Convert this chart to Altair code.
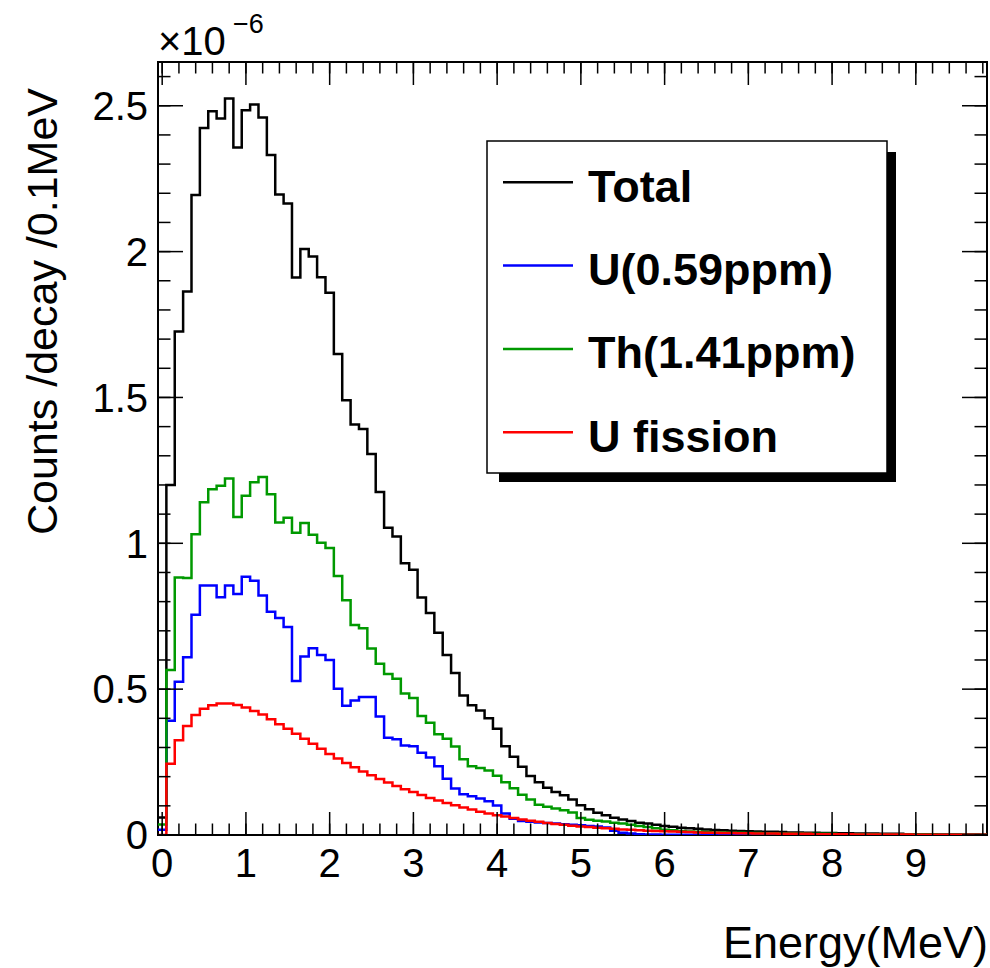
import altair as alt
import pandas as pd

# ---------------- data ----------------
energy = [round(0.1 * i, 1) for i in range(99)]  # bin centres (MeV), bin width 0.1

total = [0.060, 1.200, 1.726, 1.863, 2.194, 2.424, 2.481, 2.456, 2.525, 2.357,
         2.485, 2.504, 2.460, 2.331, 2.196, 2.165, 1.911, 2.009, 1.983, 1.912,
         1.859, 1.649, 1.490, 1.407, 1.392, 1.306, 1.176, 1.053, 1.023, 0.932,
         0.909, 0.814, 0.761, 0.693, 0.617, 0.555, 0.478, 0.445, 0.427, 0.400,
         0.364, 0.304, 0.268, 0.234, 0.202, 0.181, 0.162, 0.147, 0.136, 0.122,
         0.102, 0.088, 0.076, 0.068, 0.059, 0.053, 0.048, 0.042, 0.039, 0.035,
         0.031, 0.028, 0.025, 0.023, 0.021, 0.019, 0.017, 0.016, 0.015, 0.014,
         0.013, 0.012, 0.011, 0.011, 0.010, 0.009, 0.009, 0.008, 0.008, 0.007,
         0.007, 0.006, 0.006, 0.005, 0.005, 0.005, 0.004, 0.004, 0.004, 0.003,
         0.003, 0.003, 0.003, 0.002, 0.002, 0.002, 0.002, 0.002, 0.001]

uranium = [0.018, 0.392, 0.525, 0.609, 0.755, 0.855, 0.855, 0.815, 0.855, 0.826,
           0.885, 0.872, 0.821, 0.765, 0.744, 0.713, 0.528, 0.612, 0.640, 0.617,
           0.600, 0.501, 0.443, 0.461, 0.473, 0.473, 0.406, 0.333, 0.328, 0.307,
           0.304, 0.282, 0.266, 0.236, 0.193, 0.159, 0.140, 0.133, 0.125, 0.116,
           0.101, 0.074, 0.056, 0.048, 0.045, 0.043, 0.041, 0.039, 0.037, 0.035,
           0.033, 0.031, 0.029, 0.026, 0.015, 0.008, 0.005, 0.003, 0.002, 0.002,
           0.001, 0.001, 0.001, 0.001, 0.001, 0.001, 0.000, 0.000, 0.000, 0.000,
           0.000, 0.000, 0.000, 0.000, 0.000, 0.000, 0.000, 0.000, 0.000, 0.000,
           0.000, 0.000, 0.000, 0.000, 0.000, 0.000, 0.000, 0.000, 0.000, 0.000,
           0.000, 0.000, 0.000, 0.000, 0.000, 0.000, 0.000, 0.000, 0.000]

thorium = [0.036, 0.566, 0.883, 0.881, 1.031, 1.141, 1.185, 1.197, 1.222, 1.090,
           1.163, 1.209, 1.227, 1.168, 1.071, 1.088, 1.036, 1.070, 1.029, 1.002,
           0.984, 0.888, 0.805, 0.720, 0.709, 0.639, 0.587, 0.552, 0.536, 0.485,
           0.470, 0.408, 0.385, 0.345, 0.330, 0.303, 0.260, 0.236, 0.230, 0.221,
           0.203, 0.181, 0.160, 0.138, 0.122, 0.104, 0.097, 0.091, 0.085, 0.077,
           0.058, 0.052, 0.049, 0.046, 0.042, 0.039, 0.035, 0.031, 0.027, 0.023,
           0.018, 0.016, 0.014, 0.012, 0.011, 0.010, 0.009, 0.009, 0.008, 0.008,
           0.007, 0.007, 0.006, 0.006, 0.005, 0.005, 0.005, 0.004, 0.004, 0.004,
           0.004, 0.003, 0.003, 0.003, 0.003, 0.003, 0.002, 0.002, 0.002, 0.002,
           0.002, 0.002, 0.002, 0.001, 0.001, 0.001, 0.001, 0.001, 0.001]

fission = [0.000, 0.244, 0.325, 0.374, 0.411, 0.433, 0.445, 0.451, 0.451, 0.446,
           0.437, 0.425, 0.413, 0.397, 0.380, 0.364, 0.347, 0.330, 0.313, 0.296,
           0.278, 0.262, 0.247, 0.232, 0.218, 0.205, 0.192, 0.180, 0.168, 0.157,
           0.147, 0.137, 0.127, 0.118, 0.110, 0.102, 0.094, 0.087, 0.080, 0.074,
           0.068, 0.063, 0.058, 0.053, 0.049, 0.045, 0.041, 0.038, 0.035, 0.032,
           0.029, 0.027, 0.025, 0.023, 0.021, 0.019, 0.018, 0.016, 0.015, 0.014,
           0.013, 0.012, 0.011, 0.010, 0.009, 0.008, 0.008, 0.007, 0.007, 0.006,
           0.006, 0.005, 0.005, 0.005, 0.004, 0.004, 0.004, 0.004, 0.003, 0.003,
           0.003, 0.003, 0.003, 0.002, 0.002, 0.002, 0.002, 0.002, 0.002, 0.002,
           0.001, 0.001, 0.001, 0.001, 0.001, 0.001, 0.001, 0.001, 0.001]

series_names = ["Total", "U(0.59ppm)", "Th(1.41ppm)", "U fission"]
series_colors = ["#000000", "#0000ff", "#009900", "#ff0000"]
series_values = [total, uranium, thorium, fission]

x_major = [0, 1, 2, 3, 4, 5, 6, 7, 8, 9]
x_tick_labels = ["0", "1", "2", "3", "4", "5", "6", "7", "8", "9"]
x_minor = [round(0.2 * i, 1) for i in range(50)]
y_major = [0, 0.5, 1, 1.5, 2, 2.5]
y_tick_labels = ["0", "0.5", "1", "1.5", "2", "2.5"]
y_minor = [round(0.1 * i, 1) for i in range(27)]

x_title = "Energy(MeV)"
y_title = "Counts /decay /0.1MeV"

# ---------------- layout ----------------
W, H = 829, 773
FONT = "Liberation Sans"
xs = alt.Scale(domain=[-0.05, 9.85], nice=False, zero=False)
ys = alt.Scale(domain=[0, 2.65], nice=False, zero=False)


def hist_frame(vals):
    edges = [round(e - 0.05, 2) for e in energy] + [round(energy[-1] + 0.05, 2)]
    return pd.DataFrame({"edge": edges, "value": list(vals) + [vals[-1]]})


layers = []
for name, vals, col in zip(series_names, series_values, series_colors):
    layers.append(
        alt.Chart(hist_frame(vals)).mark_line(
            interpolate="step-after", color=col, strokeWidth=2.5, clip=True
        ).encode(
            x=alt.X("edge:Q", scale=xs, axis=None),
            y=alt.Y("value:Q", scale=ys, axis=None),
        )
    )

# ROOT-style inward ticks on all four sides
dx_min = pd.DataFrame({"t": x_minor})
dx_maj = pd.DataFrame({"t": x_major})
dy_min = pd.DataFrame({"t": y_minor})
dy_maj = pd.DataFrame({"t": y_major})
tick = dict(color="black", strokeWidth=1.5)
for df, ln in [(dx_min, 11.5), (dx_maj, 23)]:
    layers.append(alt.Chart(df).mark_rule(**tick).encode(
        x=alt.X("t:Q", scale=xs, axis=None), y=alt.value(H), y2=alt.value(H - ln)))
    layers.append(alt.Chart(df).mark_rule(**tick).encode(
        x=alt.X("t:Q", scale=xs, axis=None), y=alt.value(0), y2=alt.value(ln)))
for df, ln in [(dy_min, 12.5), (dy_maj, 25)]:
    layers.append(alt.Chart(df).mark_rule(**tick).encode(
        y=alt.Y("t:Q", scale=ys, axis=None), x=alt.value(0), x2=alt.value(ln)))
    layers.append(alt.Chart(df).mark_rule(**tick).encode(
        y=alt.Y("t:Q", scale=ys, axis=None), x=alt.value(W), x2=alt.value(W - ln)))

# tick labels
layers.append(alt.Chart(pd.DataFrame({"t": x_major, "lab": x_tick_labels})).mark_text(
    font=FONT, fontSize=40, color="black", align="center", baseline="alphabetic"
).encode(x=alt.X("t:Q", scale=xs, axis=None), y=alt.value(H + 42), text="lab:N"))
layers.append(alt.Chart(pd.DataFrame({"t": y_major, "lab": y_tick_labels})).mark_text(
    font=FONT, fontSize=40, color="black", align="right", baseline="alphabetic", dy=14.3
).encode(y=alt.Y("t:Q", scale=ys, axis=None), x=alt.value(-10), text="lab:N"))

# axis titles
dummy = pd.DataFrame({"a": [0]})
layers.append(alt.Chart(dummy).mark_text(
    text=x_title, font=FONT, fontSize=45, color="black", align="right", baseline="alphabetic"
).encode(x=alt.value(W + 1), y=alt.value(H + 123)))
layers.append(alt.Chart(dummy).mark_text(
    text=y_title, font=FONT, fontSize=43, color="black", align="right", baseline="alphabetic",
    angle=270
).encode(x=alt.value(-101), y=alt.value(26)))

# legend box with shadow
layers.append(alt.Chart(dummy).mark_rect(color="black").encode(
    x=alt.value(341), x2=alt.value(738), y=alt.value(90), y2=alt.value(420)))
layers.append(alt.Chart(dummy).mark_rect(fill="white", stroke="black", strokeWidth=1.5).encode(
    x=alt.value(329), x2=alt.value(729), y=alt.value(79), y2=alt.value(411)))
for i, (name, col) in enumerate(zip(series_names, series_colors)):
    yl = 120.3 + 83.3 * i
    layers.append(alt.Chart(dummy).mark_rule(color=col, strokeWidth=2.5).encode(
        x=alt.value(345), x2=alt.value(415), y=alt.value(yl)))
    layers.append(alt.Chart(dummy).mark_text(
        text=name, align="left", baseline="alphabetic", font=FONT, fontWeight="bold",
        fontSize=45, color="black").encode(x=alt.value(430), y=alt.value(yl + 19.4)))

# exponent label
layers.append(alt.Chart(dummy).mark_text(
    text="×10", align="left", baseline="alphabetic", font=FONT, fontSize=40,
    color="black").encode(x=alt.value(0), y=alt.value(-7)))
layers.append(alt.Chart(dummy).mark_text(
    text="−6", align="left", baseline="alphabetic", font=FONT, fontSize=27,
    color="black").encode(x=alt.value(75), y=alt.value(-29)))

chart = alt.layer(*layers).properties(
    width=W, height=H, autosize="none",
    padding={"left": 158, "top": 62, "right": 3, "bottom": 133},
    background="white",
).configure_view(stroke="black", strokeWidth=2)

chart.save("out.html", embed_options={"renderer": "svg", "actions": False})
